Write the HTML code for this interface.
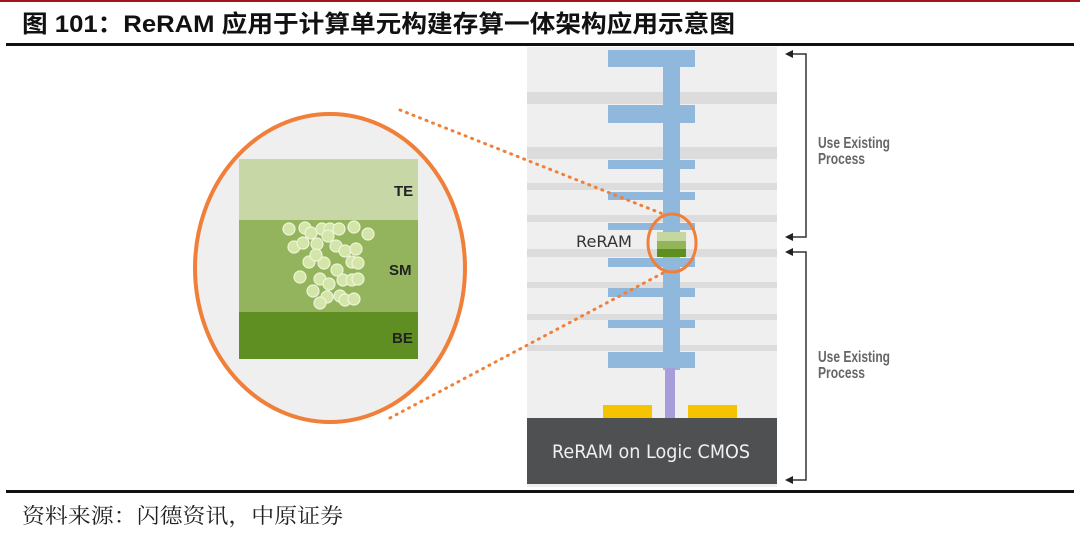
<!DOCTYPE html>
<html><head><meta charset="utf-8"><style>
html,body{margin:0;padding:0;background:#fff;width:1080px;height:537px;overflow:hidden}
svg{display:block}
</style></head><body>
<svg width="1080" height="537" viewBox="0 0 1080 537" xmlns="http://www.w3.org/2000/svg">
<rect x="0" y="0" width="1080" height="2" fill="#a3151a"/>
<text x="22" y="32" textLength="713" lengthAdjust="spacingAndGlyphs" font-family="Liberation Sans, Noto Sans CJK SC, sans-serif" font-size="24" font-weight="bold" fill="#111">图 101：ReRAM 应用于计算单元构建存算一体架构应用示意图</text>
<rect x="6" y="43" width="1068" height="3" fill="#111"/>
<rect x="6" y="490" width="1068" height="3" fill="#111"/>
<text x="22" y="523" textLength="321" lengthAdjust="spacingAndGlyphs" font-family="Liberation Serif, Noto Serif CJK SC, serif" font-size="21" fill="#222">资料来源：闪德资讯，中原证券</text>

<!-- right panel -->
<rect x="527" y="47" width="250" height="440" fill="#efefef"/>
<g fill="#dcdcdc">
<rect x="527" y="92" width="250" height="12"/>
<rect x="527" y="147" width="250" height="12"/>
<rect x="527" y="183" width="250" height="7"/>
<rect x="527" y="215" width="250" height="7"/>
<rect x="527" y="249" width="250" height="8"/>
<rect x="527" y="282" width="250" height="6"/>
<rect x="527" y="314" width="250" height="6"/>
<rect x="527" y="345" width="250" height="6"/>
</g>
<g fill="#8fb8dc">
<rect x="663" y="50" width="17" height="320"/>
<rect x="608" y="50" width="87" height="17"/>
<rect x="608" y="105" width="87" height="18"/>
<rect x="608" y="160" width="87" height="9"/>
<rect x="608" y="192" width="87" height="8"/>
<rect x="608" y="223" width="87" height="7"/>
<rect x="608" y="258" width="87" height="9"/>
<rect x="608" y="288" width="87" height="9"/>
<rect x="608" y="320" width="87" height="8"/>
<rect x="608" y="352" width="87" height="16"/>
</g>
<rect x="665" y="368" width="10" height="50" fill="#a89ddb"/>
<rect x="603" y="405" width="49" height="13" fill="#f6c300"/>
<rect x="688" y="405" width="49" height="13" fill="#f6c300"/>
<rect x="527" y="418" width="250" height="66" fill="#4f5052"/>
<text x="651" y="458" text-anchor="middle" textLength="198" lengthAdjust="spacingAndGlyphs" font-family="DejaVu Sans, Liberation Sans, sans-serif" font-size="19" fill="#f0f0f0">ReRAM on Logic CMOS</text>
<text x="576" y="247" textLength="56" lengthAdjust="spacingAndGlyphs" font-family="DejaVu Sans, Liberation Sans, sans-serif" font-size="16" fill="#333">ReRAM</text>
<rect x="657" y="232" width="29" height="9" fill="#c4d79f"/>
<rect x="657" y="241" width="29" height="8" fill="#93b55a"/>
<rect x="657" y="249" width="29" height="8" fill="#5e8e1f"/>
<ellipse cx="672" cy="243" rx="24" ry="29" fill="none" stroke="#f07f3a" stroke-width="3"/>

<!-- dotted lines -->
<g stroke="#f07f3a" stroke-width="3" stroke-dasharray="1 6" stroke-linecap="round" fill="none">
<line x1="400" y1="110" x2="663" y2="214"/>
<line x1="390" y1="418" x2="663" y2="273"/>
</g>

<!-- big circle -->
<ellipse cx="330" cy="268" rx="135" ry="154" fill="#efefef" stroke="#f07f3a" stroke-width="4"/>
<rect x="239" y="159" width="179" height="61" fill="#c7d7a6"/>
<rect x="239" y="220" width="179" height="92" fill="#93b35c"/>
<rect x="239" y="312" width="179" height="47" fill="#5f8f22"/>
<g fill="#d3e5a8" stroke="#eef5d8" stroke-width="1.2">
<circle cx="289" cy="229" r="6"/><circle cx="305" cy="228" r="6"/><circle cx="311" cy="233" r="6"/><circle cx="322" cy="229" r="6"/><circle cx="330" cy="229" r="6"/><circle cx="339" cy="229" r="6"/><circle cx="354" cy="227" r="6"/><circle cx="368" cy="234" r="6"/>
<circle cx="294" cy="247" r="6"/><circle cx="303" cy="243" r="6"/><circle cx="317" cy="244" r="6"/><circle cx="328" cy="236" r="6"/><circle cx="336" cy="246" r="6"/><circle cx="345" cy="251" r="6"/><circle cx="356" cy="249" r="6"/><circle cx="324" cy="263" r="6"/>
<circle cx="309" cy="262" r="6"/><circle cx="316" cy="255" r="6"/><circle cx="337" cy="270" r="6"/><circle cx="352" cy="262" r="6"/><circle cx="358" cy="263" r="6"/><circle cx="300" cy="277" r="6"/><circle cx="320" cy="279" r="6"/><circle cx="329" cy="284" r="6"/>
<circle cx="343" cy="280" r="6"/><circle cx="352" cy="280" r="6"/><circle cx="358" cy="279" r="6"/><circle cx="313" cy="291" r="6"/><circle cx="327" cy="297" r="6"/><circle cx="340" cy="296" r="6"/><circle cx="320" cy="303" r="6"/><circle cx="345" cy="300" r="6"/><circle cx="354" cy="299" r="6"/>
</g>
<g font-family="Liberation Sans Narrow, Liberation Sans, sans-serif" font-size="15" font-weight="bold" fill="#222">
<text x="394" y="196">TE</text><text x="389" y="275">SM</text><text x="392" y="343">BE</text>
</g>

<!-- brackets -->
<g stroke="#333" stroke-width="1.5" fill="none">
<polyline points="790,54 806,54 806,237 790,237"/>
<polyline points="790,252 806,252 806,480 790,480"/>
</g>
<g fill="#222">
<polygon points="785,54 793,50 793,58"/><polygon points="785,237 793,233 793,241"/>
<polygon points="785,252 793,248 793,256"/><polygon points="785,480 793,476 793,484"/>
</g>
<g font-family="Liberation Sans Narrow, Liberation Sans, sans-serif" font-size="16" font-weight="bold" fill="#666">
<text x="818" y="148" textLength="72" lengthAdjust="spacingAndGlyphs">Use Existing</text><text x="818" y="164" textLength="47" lengthAdjust="spacingAndGlyphs">Process</text>
<text x="818" y="362" textLength="72" lengthAdjust="spacingAndGlyphs">Use Existing</text><text x="818" y="378" textLength="47" lengthAdjust="spacingAndGlyphs">Process</text>
</g>
</svg>
</body></html>
